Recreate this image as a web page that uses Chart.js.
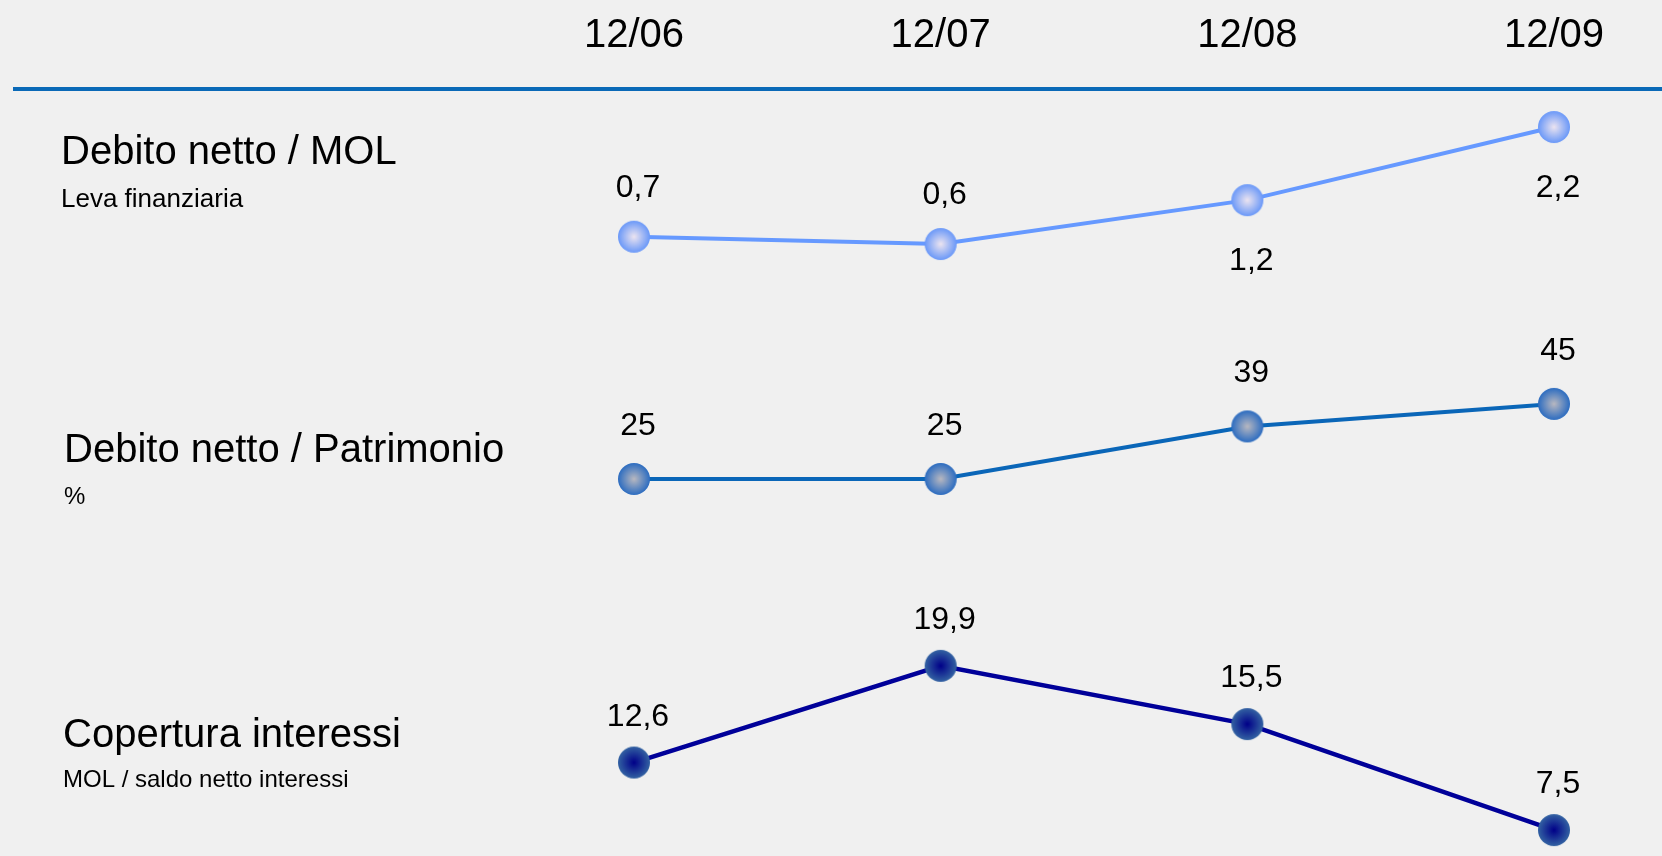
<!DOCTYPE html>
<html>
<head>
<meta charset="utf-8">
<script src="https://cdn.jsdelivr.net/npm/chart.js@4/dist/chart.umd.min.js"></script>
<style>
  html, body { margin: 0; padding: 0; background: #f0f0f0; }
  #wrap { width: 1662px; height: 856px; position: relative; }
</style>
</head>
<body>
<div id="wrap"><canvas id="ratios"></canvas></div>
<script>
// data
const periods = ['12/06', '12/07', '12/08', '12/09'];
const levaFinanziaria = [0.7, 0.6, 1.2, 2.2];
const debitoPatrimonio = [25, 25, 39, 45];
const coperturaInteressi = [12.6, 19.9, 15.5, 7.5];
const rowTitles = ['Debito netto / MOL', 'Debito netto / Patrimonio', 'Copertura interessi'];
const rowSubtitles = ['Leva finanziaria', '%', 'MOL / saldo netto interessi'];

const FONT = '"Liberation Sans", Arial, sans-serif';

// round marker with a radial shading, used as pointStyle image
function makeMarker(inner, outer) {
  const c = document.createElement('canvas');
  c.width = 34; c.height = 34;
  const g = c.getContext('2d');
  const grad = g.createRadialGradient(17, 17, 0, 17, 17, 16);
  grad.addColorStop(0, inner);
  grad.addColorStop(1, outer);
  g.fillStyle = grad;
  g.beginPath();
  g.arc(17, 17, 16, 0, Math.PI * 2);
  g.fill();
  return c;
}

const fmt = (v) => String(v).replace('.', ',');

// header rule + row captions on the left
const decorPlugin = {
  id: 'decor',
  beforeDraw(chart) {
    const ctx = chart.ctx;
    ctx.save();
    ctx.strokeStyle = '#0a69b7';
    ctx.lineWidth = 4;
    ctx.beginPath();
    ctx.moveTo(13, 89);
    ctx.lineTo(chart.width, 89);
    ctx.stroke();

    const titleY = [164, 462, 747];
    const subY = [207, 504, 787];
    const titleX = [61, 64, 63];
    const subSize = [26, 24, 24];
    ctx.fillStyle = '#000';
    ctx.textAlign = 'left';
    ctx.textBaseline = 'alphabetic';
    rowTitles.forEach((t, i) => {
      ctx.font = '40px ' + FONT;
      ctx.fillText(t, titleX[i], titleY[i]);
      ctx.font = subSize[i] + 'px ' + FONT;
      ctx.fillText(rowSubtitles[i], titleX[i], subY[i]);
    });
    ctx.restore();
  }
};

// value labels next to each marker
const valueLabels = {
  id: 'valueLabels',
  afterDatasetsDraw(chart) {
    const ctx = chart.ctx;
    const below = { 0: [2, 3] };
    const above = [40, 44, 37];
    ctx.save();
    ctx.font = '32px ' + FONT;
    ctx.fillStyle = '#000';
    ctx.textAlign = 'center';
    ctx.textBaseline = 'alphabetic';
    chart.data.datasets.forEach((ds, di) => {
      const meta = chart.getDatasetMeta(di);
      meta.data.forEach((pt, i) => {
        const isBelow = (below[di] || []).includes(i);
        const y = isBelow ? pt.y + 70 : pt.y - above[di];
        ctx.fillText(fmt(ds.data[i]), pt.x + 4, y);
      });
    });
    ctx.restore();
  }
};

new Chart(document.getElementById('ratios'), {
  type: 'line',
  data: {
    labels: periods,
    datasets: [
      {
        label: rowTitles[0],
        data: levaFinanziaria,
        yAxisID: 'y1',
        borderColor: '#6699ff',
        borderWidth: 4,
        pointStyle: makeMarker('#ece4f0', '#6a98f8'),
        pointRadius: 16,
      },
      {
        label: rowTitles[1],
        data: debitoPatrimonio,
        yAxisID: 'y2',
        borderColor: '#0a66b8',
        borderWidth: 4,
        pointStyle: makeMarker('#b8b8c0', '#2c6cc0'),
        pointRadius: 16,
      },
      {
        label: rowTitles[2],
        data: coperturaInteressi,
        yAxisID: 'y3',
        borderColor: '#000099',
        borderWidth: 4.5,
        pointStyle: makeMarker('#000088', '#3362a2'),
        pointRadius: 16,
      },
    ],
  },
  options: {
    responsive: true,
    maintainAspectRatio: false,
    animation: false,
    layout: { autoPadding: false, padding: { left: 634, right: 108, top: 0, bottom: 6 } },
    plugins: {
      legend: { display: false },
      tooltip: { enabled: false },
    },
    scales: {
      x: {
        position: 'top',
        offset: false,
        grid: { display: false, drawTicks: false },
        border: { display: false },
        ticks: { color: '#000', font: { size: 40, family: FONT }, padding: 40 },
        afterFit(scale) { scale.height = 100; },
      },
      y1: { display: false, min: -7.69, max: 2.57 },
      y2: { display: false, min: -73.9, max: 126 },
      y3: { display: false, min: 6, max: 62.6 },
    },
  },
  plugins: [decorPlugin, valueLabels],
});
</script>
</body>
</html>
